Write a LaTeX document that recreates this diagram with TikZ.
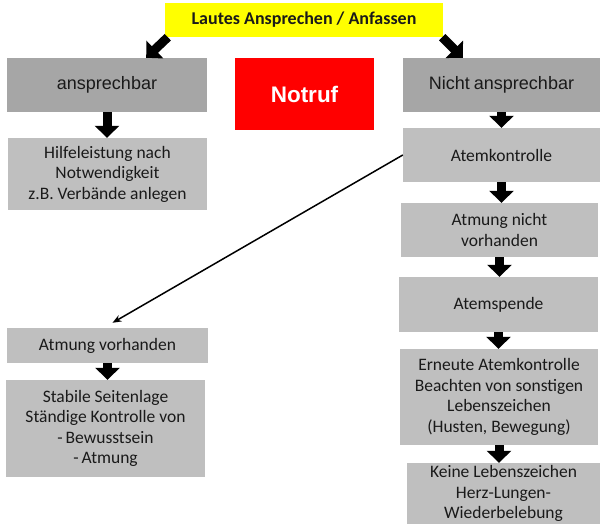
\documentclass[tikz,border=0pt]{standalone}
\usepackage{fontspec}
\setmainfont{Carlito}
\newfontfamily\arialfont{Liberation Sans}
\usetikzlibrary{arrows.meta,positioning}
\definecolor{greyd}{HTML}{A6A6A6}
\definecolor{greyl}{HTML}{BFBFBF}
\definecolor{notrot}{HTML}{FF0000}
\definecolor{gelb}{HTML}{FFFF00}
\definecolor{txt}{HTML}{1A1A1A}
\tikzset{
  kasten/.style={fill=greyl,align=center,inner sep=2pt,text=txt,font=\fontsize{17.5}{20.5}\selectfont},
  kastend/.style={kasten,fill=greyd,font=\arialfont\fontsize{18}{22}\selectfont},
  blk/.style={-{Triangle[width=24pt,length=12pt]},line width=9pt,black},
  duenn/.style={-{Stealth[length=9pt,width=7pt]},line width=1.5pt,black}
}
\begin{document}
\begin{tikzpicture}[x=1pt,y=-1pt]
\useasboundingbox (0,0) rectangle (600,524);
% top and first row
\node[kasten,fill=gelb,font=\bfseries\fontsize{18}{20}\selectfont,minimum width=278pt,minimum height=34pt] (top) at (304,20) {Lautes Ansprechen / Anfassen};
\node[kastend,minimum width=200pt,minimum height=54pt] (ansp) at (107,85) {ansprechbar};
\node[kasten,fill=notrot,text=white,font=\arialfont\bfseries\fontsize{22.5}{26}\selectfont,minimum width=139pt,minimum height=72pt] (notruf) at (304.5,94) {Notruf};
\node[kastend,minimum width=197pt,minimum height=54pt] (nansp) at (501.5,85) {Nicht\hspace{-1pt} ansprechbar};
% left column
\node[kasten,minimum width=199pt,minimum height=72pt] (hilfe) at (107.5,174) {Hilfeleistung nach\\Notwendigkeit\\z.B. Verbände anlegen};
\node[kasten,minimum width=201pt,minimum height=35pt] (atmv) at (107.5,345.5) {Atmung vorhanden};
\node[kasten,minimum width=199pt,minimum height=97pt] (stab) at (105.5,428.5) {Stabile Seitenlage\\Ständige Kontrolle von\\-\,Bewusstsein\\-\,Atmung};
% right column
\node[kasten,minimum width=197pt,minimum height=54pt] (atk) at (501.5,155) {Atemkontrolle};
\node[kasten,minimum width=197pt,minimum height=54pt] (atmn) at (499.5,230) {Atmung nicht\\vorhanden};
\node[kasten,minimum width=199pt,minimum height=55pt] (atsp) at (498.5,304.5) {Atemspende};
\node[kasten,minimum width=198pt,minimum height=96pt] (ern) at (499,397) {Erneute Atemkontrolle\\Beachten von sonstigen\\Lebenszeichen\\(Husten, Bewegung)};
\node[kasten,minimum width=193pt,minimum height=61pt] (keine) at (503.5,493.5) {Keine Lebenszeichen\\Herz-Lungen-\\Wiederbelebung};
% arrows
\draw[blk] ([xshift=3pt]top.south west) -- ([xshift=-61pt]ansp.north east);
\draw[blk] ([xshift=-1pt]top.south east) -- ([xshift=60pt]nansp.north west);
\draw[blk] (ansp.south) -- (ansp.south |- hilfe.north);
\draw[blk] (atmv.south) -- (atmv.south |- stab.north);
\draw[blk] (nansp.south) -- (nansp.south |- atk.north);
\draw[blk] (atk.south) -- (atk.south |- atmn.north);
\draw[blk] (atmn.south) -- (atmn.south |- atsp.north);
\draw[blk] (atsp.south) -- (atsp.south |- ern.north);
\draw[blk] (ern.south) -- (ern.south |- keine.north);
\draw[duenn] (atk.west) -- ([xshift=5pt,yshift=5pt]atmv.north);
\end{tikzpicture}
\end{document}
